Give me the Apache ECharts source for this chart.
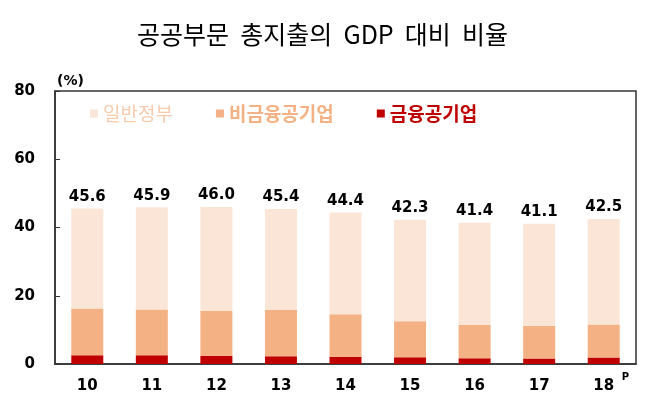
<!DOCTYPE html>
<html>
<head>
<meta charset="utf-8">
<script src="https://cdn.jsdelivr.net/npm/echarts@6/dist/echarts.min.js"></script>
<style>html,body{margin:0;padding:0;background:#fff}#c{width:665px;height:412px}</style>
</head>
<body>
<div id="c"></div>
<script>
var categories = ['10', '11', '12', '13', '14', '15', '16', '17', '18'];
var financialPE = [2.6, 2.6, 2.4, 2.3, 2.1, 2.0, 1.7, 1.6, 1.9];
var nonFinancialPE = [13.7, 13.4, 13.1, 13.5, 12.5, 10.5, 9.7, 9.6, 9.7];
var generalGov = [29.3, 29.9, 30.5, 29.6, 29.8, 29.8, 30.0, 29.9, 30.9];
var totals = [45.6, 45.9, 46.0, 45.4, 44.4, 42.3, 41.4, 41.1, 42.5];
var preliminaryCategory = '18';

var chart = echarts.init(document.getElementById('c'));
var numFont = 'DejaVu Sans';
chart.setOption({
  animation: false,
  title: {
    text: '공공부문  총지출의  GDP  대비  비율',
    left: 132, top: 17,
    textStyle: { fontFamily: 'Noto Sans CJK KR', fontWeight: 'normal', fontSize: 25, color: '#000' }
  },
  legend: {
    left: 85, top: 99, itemWidth: 8, itemHeight: 8, itemGap: 43, icon: 'rect',
    selectedMode: false,
    textStyle: { fontFamily: 'Noto Sans CJK KR', fontSize: 19, fontWeight: 'bold' },
    data: [
      { name: '일반정부', textStyle: { color: '#F8CBAD', fontWeight: 'normal' } },
      { name: '비금융공기업', textStyle: { color: '#F4B183' } },
      { name: '금융공기업', textStyle: { color: '#C00000' } }
    ]
  },
  grid: { left: 55, right: 29, top: 91, bottom: 48, show: true, borderColor: '#333', borderWidth: 1.5, backgroundColor: 'transparent' },
  xAxis: {
    type: 'category', data: categories,
    axisLine: { lineStyle: { color: '#333', width: 1.5 } },
    axisTick: { inside: true, length: 5, lineStyle: { color: '#333' } },
    axisLabel: { interval: 0, fontFamily: numFont, fontWeight: 'bold', fontSize: 15, color: '#000', margin: 15 }
  },
  yAxis: {
    type: 'value', min: 0, max: 80, interval: 20,
    name: '(%)', nameLocation: 'end', nameGap: 3,
    nameTextStyle: { fontFamily: numFont, fontWeight: 'bold', fontSize: 14, color: '#000', align: 'left', padding: [0, 0, 0, 2] },
    splitLine: { show: false },
    axisLine: { show: true, lineStyle: { color: '#333', width: 1.5 } },
    axisTick: { show: true, inside: true, length: 5, lineStyle: { color: '#333' } },
    axisLabel: { fontFamily: numFont, fontWeight: 'bold', fontSize: 15, color: '#000', margin: 20 }
  },
  series: [
    { name: '금융공기업', type: 'bar', stack: 't', data: financialPE, barWidth: 32, itemStyle: { color: '#C00000' } },
    { name: '비금융공기업', type: 'bar', stack: 't', data: nonFinancialPE, itemStyle: { color: '#F4B183' } },
    { name: '일반정부', type: 'bar', stack: 't', data: generalGov, itemStyle: { color: '#FBE5D6' },
      label: { show: true, position: 'top', distance: 4, fontFamily: numFont, fontWeight: 'bold', fontSize: 15, color: '#000',
        formatter: function (p) { return totals[p.dataIndex].toFixed(1); } } }
  ]
});
var px = chart.convertToPixel({ xAxisIndex: 0 }, preliminaryCategory);
var py = chart.convertToPixel({ yAxisIndex: 0 }, 0);
chart.setOption({
  graphic: [{
    type: 'text', left: px + 18, top: py + 8,
    style: { text: 'P', fontFamily: numFont, fontWeight: 'bold', fontSize: 10, fill: '#000' }
  }]
});
</script>
</body>
</html>
